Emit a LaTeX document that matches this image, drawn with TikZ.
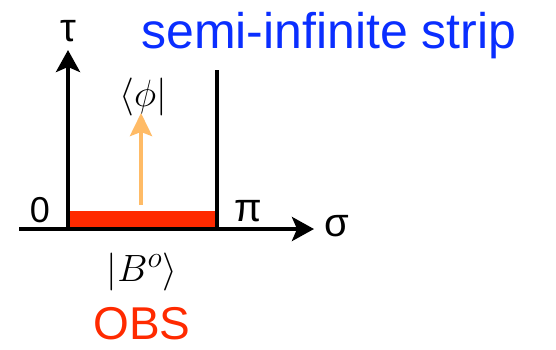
\RequirePackage{fix-cm}
\documentclass[tikz,border=0pt]{standalone}
\usepackage{fontspec}
\setmainfont{Liberation Sans}
\usepackage{tikz}
\usetikzlibrary{arrows.meta}
\DeclareMathSizes{38}{38}{30}{24}
\definecolor{obsred}{HTML}{FF2A00}
\definecolor{stripblue}{HTML}{0A2EFF}
\definecolor{flowgold}{HTML}{FFBB66}

\begin{document}
\begin{tikzpicture}[
        x=1pt, y=1pt,
        axis/.style={line width=4pt, draw=black},
        axisarrow/.style={axis, -{Stealth[length=22pt, width=24pt, inset=5pt]}},
        flow/.style={line width=4pt, draw=flowgold, -{Stealth[length=23pt, width=22pt, inset=4pt]}},
        greek/.style={font=\fontsize{40}{44}\selectfont, inner sep=0pt},
        braket/.style={font=\fontsize{38}{42}\selectfont, inner sep=0pt}
    ]
        \useasboundingbox (0,0) rectangle (556,349);

        % axes and the strip
        \coordinate (axisstart) at (19,120);
        \coordinate (origin) at (68,120);
        \coordinate (pibot) at (217,120);
        \coordinate (sigmaend) at (314,120);
        \coordinate (tauend) at (68,299);
        \coordinate (pitop) at (217,279);

        \fill[obsred] (origin) rectangle (217,138);
        \draw[axisarrow] (axisstart) -- (sigmaend);
        \draw[axisarrow] (origin) -- (tauend);
        \draw[axis] (pibot) -- (pitop);

        % evolution arrow
        \coordinate (flowbase) at (141,144);
        \coordinate (flowtip) at (141,236);
        \draw[flow] (flowbase) -- (flowtip);

        % labels
        \node[greek] (tau) at (68,318) {τ};
        \node[greek] (sigma) at (337,123) {σ};
        \node[greek] (pi) at (248,138) {π};
        \node[inner sep=0pt, font=\fontsize{36}{40}\selectfont] (zero) at (40,139) {0};
        \node[braket] (phi) at (143,252) {$\langle\phi|$};
        \node[braket] (bstate) at (142,77) {$\bigl|B^{o}\bigr\rangle$};
        \node[inner sep=0pt, text=obsred, font=\fontsize{46}{50}\selectfont] (obs) at (142,25) {OBS};
        \node[inner sep=0pt, anchor=base west, text=stripblue, font=\fontsize{50}{56}\selectfont] (title) at (141,301) {semi-infinite strip};
    \end{tikzpicture}
\end{document}
